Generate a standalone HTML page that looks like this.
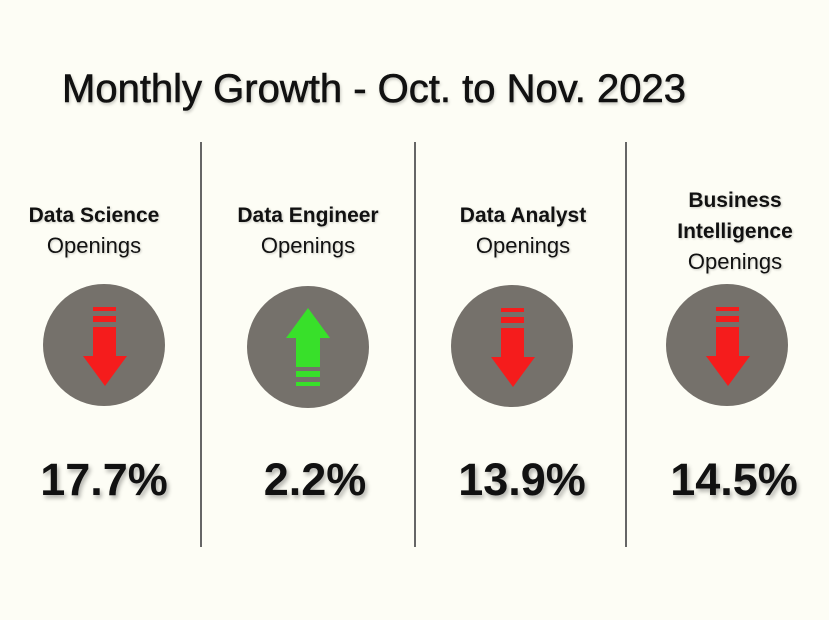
<!DOCTYPE html>
<html><head><style>
body{margin:0;width:829px;height:620px;background:#fdfdf5;position:relative;overflow:hidden;font-family:"Liberation Sans",sans-serif;color:#111}
.t{position:absolute;left:62px;top:67px;font-size:40px;white-space:nowrap;text-shadow:1px 2px 3px rgba(0,0,0,.25);-webkit-text-stroke:0.6px #111}
.v{position:absolute;top:142px;width:1.5px;height:405px;background:#666}
.l{position:absolute;width:220px;text-align:center;font-size:22px;line-height:30px;text-shadow:1px 1px 2px rgba(0,0,0,.2)}
.l b{font-size:21px}
.p{position:absolute;top:454px;width:220px;text-align:center;font-size:45px;font-weight:bold;text-shadow:2px 3px 4px rgba(0,0,0,.3)}
svg{position:absolute;left:0;top:0}
</style></head><body>
<div class="t">Monthly Growth - Oct. to Nov. 2023</div>
<div class="v" style="left:200px"></div>
<div class="v" style="left:414px"></div>
<div class="v" style="left:625px"></div>
<div class="l" style="left:-16px;top:200px"><b>Data Science</b><br>Openings</div>
<div class="l" style="left:198px;top:200px"><b>Data Engineer</b><br>Openings</div>
<div class="l" style="left:413px;top:200px"><b>Data Analyst</b><br>Openings</div>
<div class="l" style="left:625px;top:185px"><b>Business<br>Intelligence</b><br>Openings</div>
<svg width="829" height="620">
<circle cx="104" cy="345" r="61" fill="#75716b"/>
<circle cx="308" cy="347" r="61" fill="#75716b"/>
<circle cx="512" cy="346" r="61" fill="#75716b"/>
<circle cx="727" cy="345" r="61" fill="#75716b"/>
<g id="d" fill="#f51c1c">
<rect x="93" y="307" width="23" height="4"/><rect x="93" y="316" width="23" height="6"/>
<rect x="93" y="327" width="23" height="30"/><polygon points="83,356 127,356 105,386"/>
</g>
<use href="#d" x="408" y="1"/>
<use href="#d" x="623" y="0"/>
<g fill="#38e02a">
<polygon points="286,338 330,338 308,308"/><rect x="296" y="337" width="24" height="30"/>
<rect x="296" y="371" width="24" height="6"/><rect x="296" y="382" width="24" height="4"/>
</g>
</svg>
<div class="p" style="left:-6px">17.7%</div>
<div class="p" style="left:205px">2.2%</div>
<div class="p" style="left:412px">13.9%</div>
<div class="p" style="left:624px">14.5%</div>
</body></html>
